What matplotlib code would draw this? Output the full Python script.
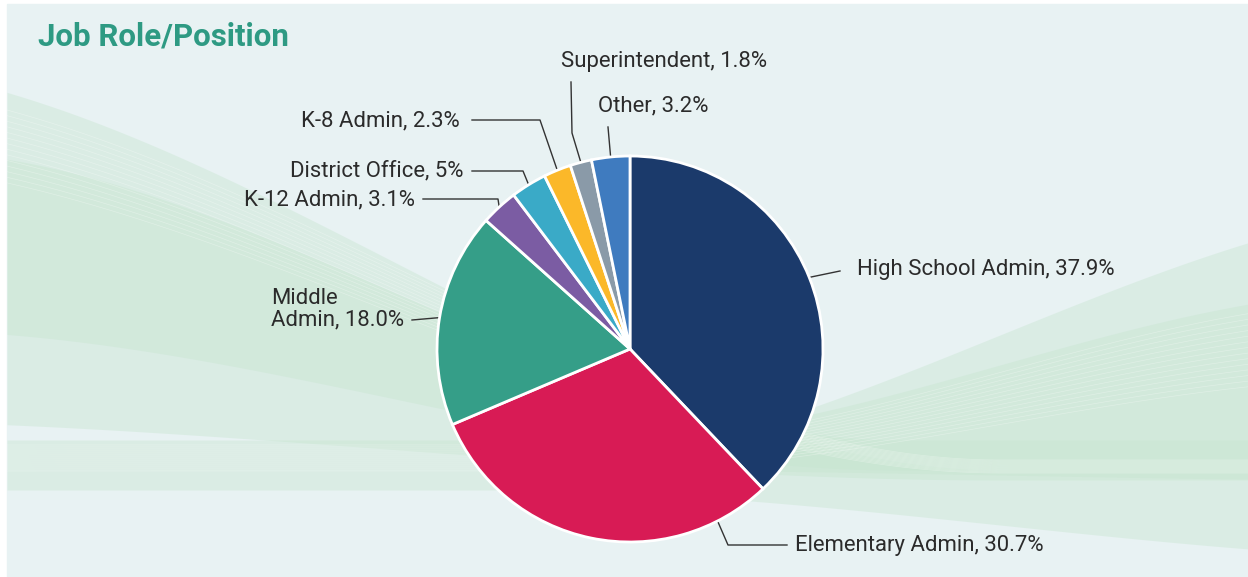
import numpy as np
import matplotlib.pyplot as plt
from matplotlib.patches import Rectangle

plt.rcParams['font.family'] = ['Roboto', 'DejaVu Sans']

# data (clockwise from 12 o'clock)
roles = ['High School Admin', 'Elementary Admin', 'Middle\nAdmin', 'K-12 Admin',
         'District Office', 'K-8 Admin', 'Superintendent', 'Other']
shares = [37.9, 30.7, 18.0, 3.1, 3.0, 2.3, 1.8, 3.2]
share_text = ['37.9%', '30.7%', '18.0%', '3.1%', '5%', '2.3%', '1.8%', '3.2%']
colors = ['#1b3a6b', '#d81b55', '#359e88', '#7b5ca3',
          '#3aaac7', '#fbb829', '#8a9aa8', '#3f7bbf']

W, H = 1248, 577


def py(y):
    # pixel row (top-down) -> axis y (bottom-up)
    return H - y


def sweep(x, x0, y0, x1, y1):
    # smooth s-curve between two points, flat outside
    s = np.clip((x - x0) / (x1 - x0), 0, 1)
    s = s * s * (3 - 2 * s)
    return y0 + (y1 - y0) * s


# label layout in pixels: text anchor, ha, elbow points, anchor position inside wedge
layout = [
    dict(xy=(857, 270), ha='left', elbow=[(840, 271)], frac=0.5),
    dict(xy=(795, 545), ha='left', elbow=[(787, 545), (728, 545)], frac=0.15),
    dict(xy=(271, 309), ha='left', elbow=[(412, 320)], frac=0.5),
    dict(xy=(415, 200), ha='right', elbow=[(423, 199), (498, 199)], frac=0.5),
    dict(xy=(463, 171), ha='right', elbow=[(472, 171), (523, 171)], frac=0.5),
    dict(xy=(460, 121), ha='right', elbow=[(472, 120), (540, 120)], frac=0.5),
    dict(xy=(561, 62), ha='left', elbow=[(571, 82), (572, 133)], frac=0.5),
    dict(xy=(598, 106), ha='left', elbow=[(608, 127)], frac=0.5),
]

fig = plt.figure(figsize=(W / 100, H / 100), dpi=100)
fig.patch.set_facecolor('white')
ax = fig.add_axes([0, 0, 1, 1])

# background panel with soft green sweeps
ax.add_patch(Rectangle((7, 0), W - 7, H - 4, color='#e8f2f3', zorder=0))
xs = np.linspace(7, W, 500)
bands = [
    (sweep(xs, -200, 60, 1000, 470), sweep(xs, -200, 420, 1000, 480)),
    (sweep(xs, -100, 150, 900, 440), sweep(xs, -100, 330, 900, 470)),
    (sweep(xs, 500, 470, 1500, 200), sweep(xs, 500, 490, 1500, 560)),
    (sweep(xs, 600, 440, 1400, 290), sweep(xs, 600, 470, 1400, 480)),
]
for top, bot in bands:
    ax.fill_between(xs, py(top), py(bot), color='#c6e5cf', alpha=0.4, lw=0, zorder=1)
for k in range(14):
    yy = sweep(xs, -200, 80 + k * 6, 1000, 460 + k)
    ax.plot(xs, py(yy), color='white', lw=0.5, alpha=0.3, zorder=1)
    yy = sweep(xs, 600, 445 + k * 2, 1400, 300 + k * 6)
    ax.plot(xs, py(yy), color='white', lw=0.5, alpha=0.3, zorder=1)

cx, cy, r = 630, py(349), 193
wedges, _ = ax.pie(shares, colors=colors, startangle=90, counterclock=False,
                   center=(cx, cy), radius=r, frame=True,
                   wedgeprops=dict(edgecolor='white', linewidth=2))
for w in wedges:
    w.set_zorder(3)

total = sum(shares)
start = 90.0
for role, val, txt, lay in zip(roles, shares, share_text, layout):
    span = 360.0 * val / total
    ang = np.radians(start - span * lay['frac'])
    start -= span
    rim = (cx + r * np.cos(ang), cy + r * np.sin(ang))
    pts = [(x, py(y)) for x, y in lay['elbow']] + [rim]
    ax.plot([p[0] for p in pts], [p[1] for p in pts], color='#333333', lw=1, zorder=2)
    ax.text(lay['xy'][0], py(lay['xy'][1]), f'{role}, {txt}', ha=lay['ha'], va='center',
            fontsize=15.9, color='#2b2b2b', linespacing=1.0, zorder=4)

ax.text(38, py(36), 'Job Role/Position', fontsize=22.5, fontweight='bold',
        color='#2e9a83', ha='left', va='center', zorder=4)

ax.set_xlim(0, W)
ax.set_ylim(0, H)
ax.set_aspect('equal')
ax.axis('off')

fig.savefig('out.png', dpi=100, facecolor='white')
